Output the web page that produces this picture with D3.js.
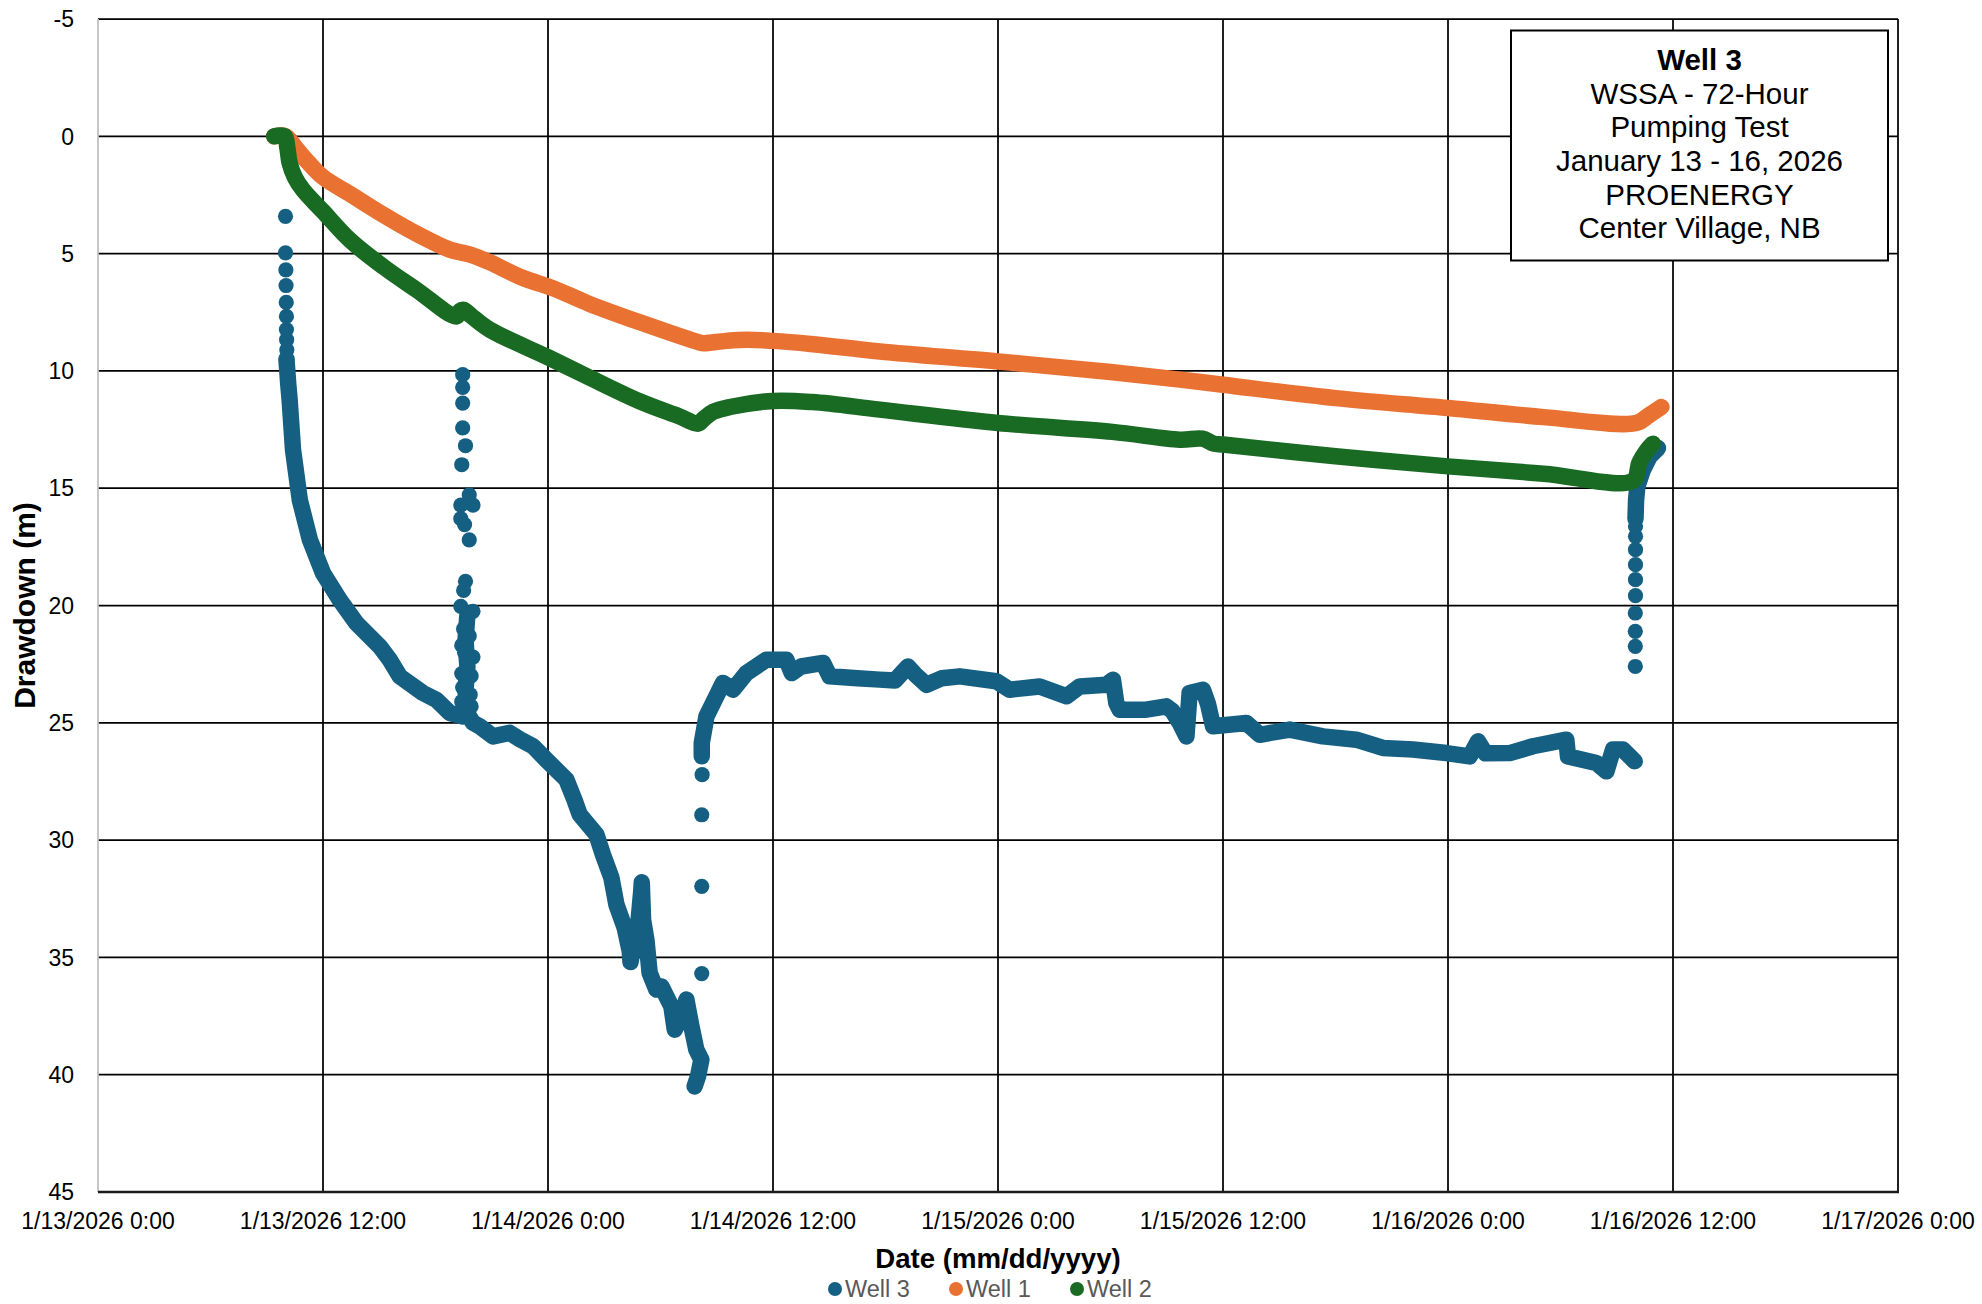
<!DOCTYPE html>
<html><head><meta charset="utf-8">
<script src="https://cdn.jsdelivr.net/npm/d3@7"></script>
<style>
html,body{margin:0;padding:0;background:#fff;}
svg{display:block;font-family:"Liberation Sans",Arial,Helvetica,sans-serif;}
</style></head>
<body><svg id="c" width="1982" height="1304"></svg>
<script>
// ---- DATA (elapsed hours since 1/13/2026 0:00, drawdown in m) ----
const seriesNames = ["Well 3", "Well 1", "Well 2"];
const seriesColors = ["#156082", "#E97132", "#196B24"];
const yTicks = [-5, 0, 5, 10, 15, 20, 25, 30, 35, 40, 45];
const annotationLines = ["Well 3", "WSSA - 72-Hour", "Pumping Test", "January 13 - 16, 2026", "PROENERGY", "Center Village, NB"];

// Well 1 (continuous logger trace)
const well1 = [[9.4,0],[10.0,0.0],[10.58,0.53],[11.2,1.1],[12.0,1.74],[13.42,2.45],[15.2,3.34],[16.98,4.15],[18.76,4.83],
 [19.47,4.97],[19.9,5.05],[20.89,5.37],[22.67,6.04],[24.25,6.47],[26.2,7.14],[28.9,7.93],[32.09,8.79],[32.3,8.82],
 [33.5,8.72],[34.6,8.67],[36.0,8.72],[38.0,8.85],[41.7,9.17],[48.0,9.6],[54.0,10.05],[57.7,10.37],[60.0,10.59],
 [66.0,11.16],[72.0,11.58],[77.1,11.97],[82.05,12.22],[82.7,11.9],[83.38,11.54]];

// Well 2 (continuous logger trace)
const well2 = [[9.4,0],[9.95,0],[10.1,0.5],[10.22,1.14],[10.5,1.75],[10.93,2.28],[12.0,3.2],[13.42,4.41],[15.2,5.55],
 [16.98,6.54],[19.11,7.68],[19.3,7.45],[19.5,7.4],[19.9,7.65],[20.89,8.24],[24.0,9.42],[26.0,10.2],[28.9,11.3],
 [31.0,11.94],[32.0,12.25],[32.3,12.05],[32.8,11.75],[33.7,11.54],[36.0,11.28],[38.1,11.33],[41.7,11.65],[48.0,12.22],
 [54.1,12.6],[57.69,12.93],[58.9,12.89],[59.5,13.1],[60.0,13.14],[66.0,13.64],[72.0,14.07],[77.1,14.38],[81.87,14.68],
 [82.2,13.93],[82.6,13.4],[82.93,13.1]];

// Well 3 dense logger runs
const well3Runs = [
 [[10.05,9.5],[10.15,10.6],[10.22,11.23],[10.4,13.36],[10.76,15.49],[11.3,17.2],[12.0,18.62],[12.89,19.76],[13.78,20.75],
  [15.02,21.74],[15.56,22.31],[16.09,23.02],[17.33,23.73],[18.05,24.02],[18.76,24.58],[19.47,24.73]],
 [[19.7,20.4],[19.6,21.5],[19.7,22.6],[19.6,23.6],[19.7,24.6],[20.0,25.0],[20.36,25.15],[21.07,25.58],[21.96,25.43],
  [22.5,25.7],[23.2,26.0],[23.9,26.57],[24.98,27.42],[25.42,28.3],[25.69,28.91],[26.58,29.76],[26.93,30.62],[27.38,31.6],
  [27.65,32.75],[28.09,33.74],[28.36,34.74],[28.4,35.2],[28.6,34.3],[28.8,33.68],[28.98,32.12],[29.0,31.8],[29.07,33.4],
  [29.25,34.26],[29.42,35.66],[29.78,36.37],[30.05,36.24],[30.58,37.09],[30.76,38.08],[31.11,37.51],[31.38,36.8],
  [31.65,37.94],[31.91,38.93],[32.18,39.36],[32.0,40.07],[31.82,40.5]],
 [[32.2,26.43],[32.2,25.86],[32.45,24.73],[32.8,24.16],[33.33,23.3],[33.87,23.59],[34.58,22.88],[35.65,22.31],[36.71,22.31],
  [37.0,22.88],[37.5,22.6],[38.67,22.45],[39.02,23.02],[40.5,23.1],[41.69,23.16],[42.5,23.2],[43.2,22.6],[43.6,22.95],
  [44.18,23.38],[45.0,23.1],[45.96,23.02],[47.91,23.23],[48.62,23.59],[50.22,23.45],[51.65,23.87],[52.36,23.45],
  [53.78,23.38],[54.13,23.16],[54.31,24.16],[54.49,24.44],[55.91,24.44],[56.98,24.3],[57.3,24.5],[57.69,25.0],
  [58.05,25.58],[58.22,23.73],[58.93,23.59],[59.2,24.2],[59.47,25.15],[61.25,25.01],[61.96,25.51],[63.56,25.29],
  [65.33,25.58],[67.11,25.72],[68.53,26.07],[70.13,26.14],[71.91,26.29],[73.16,26.43],[73.6,25.79],[74.0,26.3],
  [75.29,26.29],[76.53,26.0],[78.31,25.72],[78.4,26.43],[79.91,26.71],[80.45,27.07],[80.8,26.14],[81.33,26.14],[81.96,26.64]],
 [[82.0,16.3],[82.03,15.5],[82.1,14.92],[82.4,14.21],[82.76,13.64],[83.2,13.29]]
];

// Well 3 isolated readings
const well3Dots = [[10.0,3.41],[10.0,4.97],[10.02,5.69],[10.03,6.36],[10.04,7.08],[10.05,7.68],[10.05,8.24],[10.06,8.67],
 [10.07,9.1],[10.08,9.5],
 [19.45,10.16],[19.45,10.7],[19.45,11.37],[19.45,12.43],[19.6,13.19],[19.4,14.0],[19.8,15.28],[19.35,15.72],[20.0,15.72],
 [19.35,16.3],[19.55,16.55],[19.8,17.2],[19.6,18.97],[19.5,19.36],[19.35,20.04],[20.0,20.25],[19.7,20.6],[19.5,21.0],
 [19.8,21.3],[19.4,21.7],[19.55,22.0],[20.0,22.2],[19.4,22.9],[19.9,23.0],[19.45,23.5],[19.85,23.8],[19.4,24.1],[19.9,24.3],
 [32.2,35.69],[32.2,31.97],[32.2,28.92],[32.22,27.21],
 [81.99,22.6],[81.99,21.74],[81.99,21.1],[81.99,20.32],[82.0,19.58],[82.0,18.9],[82.0,18.26],[82.0,17.62],[82.0,17.05],[82.0,16.63]];

// ---- CHART ----
const svg = d3.select("#c");
const M = {left: 98, top: 19, right: 1898, bottom: 1192};
const t0 = new Date(2026, 0, 13, 0, 0);
const toDate = h => new Date(t0.getTime() + h * 3600e3);
const x = d3.scaleTime().domain([t0, new Date(2026, 0, 17, 0, 0)]).range([M.left, M.right]);
const y = d3.scaleLinear().domain([-5, 45]).range([M.top, M.bottom]);
const xTicks = d3.timeHour.every(12).range(t0, new Date(2026, 0, 17, 0, 1));
const fmt = d3.timeFormat("%-m/%-d/%Y %-H:%M");

// gridlines
const g = svg.append("g");
g.selectAll("line.h").data(yTicks.slice(0, -1)).join("line")
  .attr("x1", M.left).attr("x2", M.right).attr("y1", d => y(d)).attr("y2", d => y(d))
  .attr("stroke", "#000").attr("stroke-width", 1.75);
g.selectAll("line.v").data(xTicks.slice(1)).join("line")
  .attr("x1", d => x(d)).attr("x2", d => x(d)).attr("y1", M.top).attr("y2", M.bottom)
  .attr("stroke", "#000").attr("stroke-width", 1.75);
// axes lines
g.append("line").attr("x1", M.left).attr("x2", M.left).attr("y1", M.top).attr("y2", M.bottom)
  .attr("stroke", "#bfbfbf").attr("stroke-width", 1.75);
g.append("line").attr("x1", M.left).attr("x2", M.right + 1).attr("y1", M.bottom).attr("y2", M.bottom)
  .attr("stroke", "#1a1a1a").attr("stroke-width", 2.5);

// tick labels
svg.append("g").selectAll("text").data(yTicks).join("text")
  .attr("x", 74).attr("y", d => y(d)).attr("dy", "0.36em").attr("text-anchor", "end")
  .attr("font-size", 23).attr("fill", "#000").text(d => d);
svg.append("g").selectAll("text").data(xTicks).join("text")
  .attr("x", d => x(d)).attr("y", 1229).attr("text-anchor", "middle")
  .attr("font-size", 23).attr("fill", "#000").text(d => fmt(d));

// axis titles
svg.append("text").attr("x", (M.left + M.right) / 2).attr("y", 1268).attr("text-anchor", "middle")
  .attr("font-size", 27.6).attr("font-weight", "bold").attr("fill", "#000").text("Date (mm/dd/yyyy)");
svg.append("text").attr("transform", `translate(35,${(M.top + M.bottom) / 2}) rotate(-90)`)
  .attr("text-anchor", "middle").attr("font-size", 30).attr("font-weight", "bold").attr("fill", "#000").text("Drawdown (m)");

// series
const SW = 16.5;
const lineLin = d3.line().x(d => x(toDate(d[0]))).y(d => y(d[1]));
const lineSmooth = d3.line().x(d => x(toDate(d[0]))).y(d => y(d[1])).curve(d3.curveCatmullRom.alpha(0.5));
const plot = svg.append("g");
// Well 3
plot.selectAll("path.w3").data(well3Runs).join("path")
  .attr("d", lineLin).attr("fill", "none").attr("stroke", seriesColors[0]).attr("stroke-width", SW)
  .attr("stroke-linejoin", "round").attr("stroke-linecap", "round");
plot.selectAll("circle.w3").data(well3Dots).join("circle")
  .attr("cx", d => x(toDate(d[0]))).attr("cy", d => y(d[1])).attr("r", 7.6).attr("fill", seriesColors[0]);
// Well 1
plot.append("path").datum(well1).attr("d", lineSmooth).attr("fill", "none").attr("stroke", seriesColors[1])
  .attr("stroke-width", SW).attr("stroke-linejoin", "round").attr("stroke-linecap", "round");
// Well 2
plot.append("path").datum(well2).attr("d", lineSmooth).attr("fill", "none").attr("stroke", seriesColors[2])
  .attr("stroke-width", SW).attr("stroke-linejoin", "round").attr("stroke-linecap", "round");

// annotation box
const box = svg.append("g");
box.append("rect").attr("x", 1511).attr("y", 30.5).attr("width", 377).attr("height", 230)
  .attr("fill", "#fff").attr("stroke", "#000").attr("stroke-width", 2);
box.selectAll("text").data(annotationLines).join("text")
  .attr("x", 1699.5).attr("y", (d, i) => 59.5 + i * 33.6).attr("dy", "0.36em").attr("text-anchor", "middle")
  .attr("font-size", 29.5).attr("font-weight", (d, i) => i === 0 ? "bold" : "normal").attr("fill", "#000").text(d => d);

// legend
const lg = svg.append("g");
const lx = [835, 956, 1077];
const ly = 1289;
seriesNames.forEach((n, i) => {
  lg.append("circle").attr("cx", lx[i]).attr("cy", ly).attr("r", 7).attr("fill", seriesColors[i]);
  lg.append("text").attr("x", lx[i] + 10).attr("y", ly).attr("dy", "0.36em").attr("font-size", 23.5)
    .attr("fill", "#595959").text(n);
});
</script></body></html>
